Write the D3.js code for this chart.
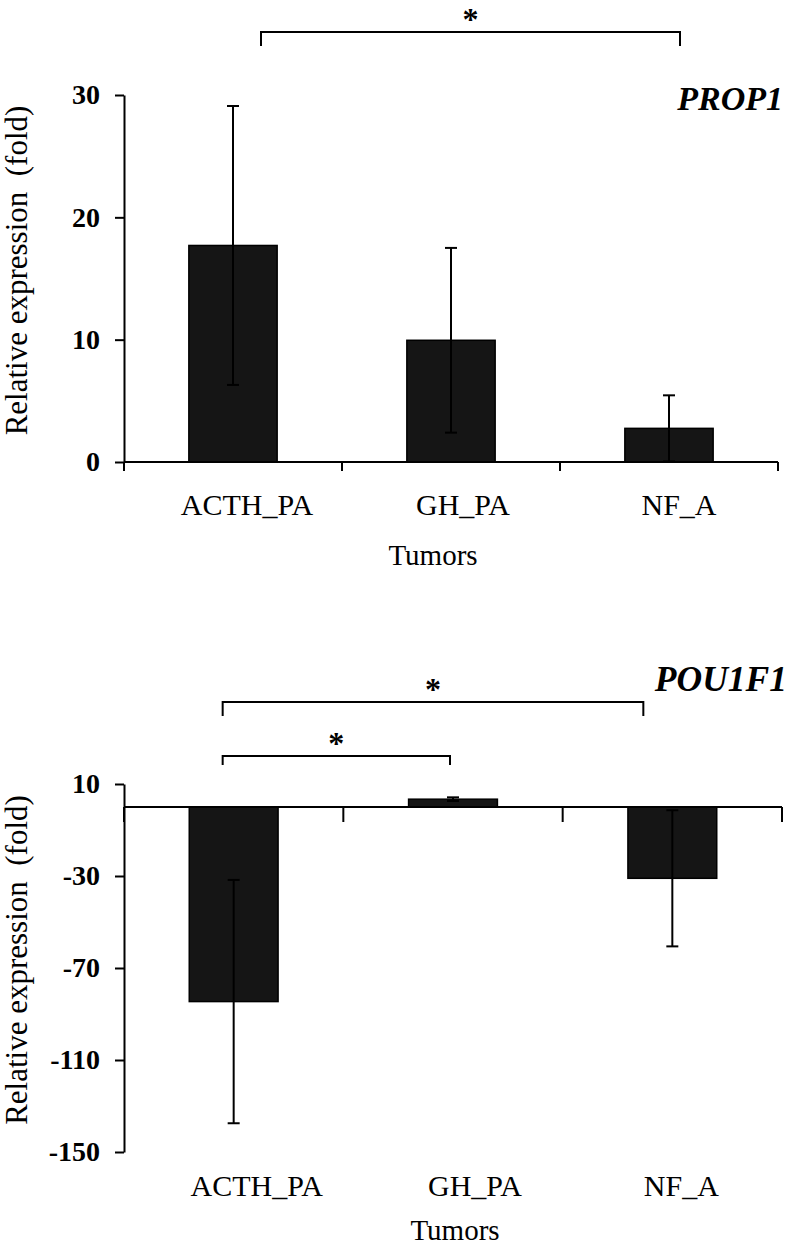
<!DOCTYPE html>
<html>
<head>
<meta charset="utf-8">
<script src="https://cdn.jsdelivr.net/npm/d3@7"></script>
<style>
  html, body { margin: 0; padding: 0; background: #fff; }
  svg { display: block; }
  text { font-family: "Liberation Serif", "Times New Roman", serif; fill: #000; }
</style>
</head>
<body>
<svg id="chart" width="796" height="1248"></svg>
<script>
// ---- data ----
const categories = ["ACTH_PA", "GH_PA", "NF_A"];

const prop1Mean = [17.7, 9.95, 2.75];
const prop1SD   = [11.4, 7.55, 2.7];
const prop1Ticks = [0, 10, 20, 30];

const pou1f1Mean = [-84.6, 3.4, -31.0];
const pou1f1SD   = [52.9, 0.8, 29.6];
const pou1f1Ticks = [-150, -110, -70, -30, 10];

const prop1Sig  = [["ACTH_PA", "NF_A"]];
const pou1f1Sig = [["ACTH_PA", "NF_A"], ["ACTH_PA", "GH_PA"]];

const yTitle = "Relative expression\u00a0\u00a0(fold)";
const xTitle = "Tumors";

const svg = d3.select("#chart");

function drawPanel(cfg) {
  const g = svg.append("g");
  const x = d3.scaleBand().domain(categories).range([cfg.x0, cfg.x1]).padding(0);
  const y = d3.scaleLinear().domain(cfg.domain).range([cfg.yBottom, cfg.yTop]);
  const bw = x.bandwidth() * 0.405;

  // bars
  g.selectAll("rect.bar").data(categories).join("rect")
    .attr("class", "bar")
    .attr("x", d => x(d) + x.bandwidth() / 2 - bw / 2)
    .attr("width", bw)
    .attr("y", (d, i) => Math.min(y(0), y(cfg.mean[i])))
    .attr("height", (d, i) => Math.abs(y(0) - y(cfg.mean[i])))
    .attr("fill", "#151515")
    .attr("stroke", "#000")
    .attr("stroke-width", 1.5);

  // error bars
  const cap = 6;
  categories.forEach((c, i) => {
    const cx = x(c) + x.bandwidth() / 2;
    const lo = cfg.mean[i] - cfg.sd[i], hi = cfg.mean[i] + cfg.sd[i];
    g.append("line").attr("x1", cx).attr("x2", cx).attr("y1", y(lo)).attr("y2", y(hi))
      .attr("stroke", "#000").attr("stroke-width", 2);
    [lo, hi].forEach(v => {
      g.append("line").attr("x1", cx - cap).attr("x2", cx + cap).attr("y1", y(v)).attr("y2", y(v))
        .attr("stroke", "#000").attr("stroke-width", 2);
    });
  });

  // y axis
  const yAxis = d3.axisLeft(y).tickValues(cfg.ticks).tickSize(9).tickSizeOuter(0).tickPadding(15)
    .tickFormat(d => String(d));
  const ya = g.append("g").attr("transform", `translate(${cfg.x0},0)`).call(yAxis);
  ya.select(".domain").attr("stroke", "#000").attr("stroke-width", 2);
  ya.selectAll(".tick line").attr("stroke", "#000").attr("stroke-width", 2);
  ya.selectAll(".tick text").attr("font-weight", "bold").attr("font-size", 28).attr("fill", "#000");

  // x axis line at zero with boundary ticks
  const y0 = y(0);
  g.append("line").attr("x1", cfg.x0).attr("x2", cfg.x1).attr("y1", y0).attr("y2", y0)
    .attr("stroke", "#000").attr("stroke-width", 2);
  const bounds = categories.map(c => x(c)).concat([cfg.x1]);
  g.selectAll("line.xt").data(bounds).join("line").attr("class", "xt")
    .attr("x1", d => d).attr("x2", d => d).attr("y1", y0).attr("y2", y0 + cfg.xTick)
    .attr("stroke", "#000").attr("stroke-width", 2);

  // category labels
  g.selectAll("text.cat").data(categories).join("text").attr("class", "cat")
    .attr("x", (d, i) => x(d) + x.bandwidth() / 2 + cfg.labelShift[i])
    .attr("y", cfg.catBaseline)
    .attr("text-anchor", "middle").attr("font-size", 30)
    .text(d => d);

  // x title
  g.append("text").attr("x", cfg.xTitleX).attr("y", cfg.xTitleY)
    .attr("text-anchor", "middle").attr("font-size", 29).text(xTitle);

  // y title
  g.append("text")
    .attr("transform", `translate(27,${(cfg.yTop + cfg.yBottom) / 2 - 8}) rotate(-90)`)
    .attr("text-anchor", "middle").attr("font-size", 31).text(yTitle);

  // gene title
  g.append("text").attr("x", cfg.titleX).attr("y", cfg.titleY)
    .attr("text-anchor", "end").attr("font-size", cfg.titleSize)
    .attr("font-weight", "bold").attr("font-style", "italic").text(cfg.title);

  // significance brackets
  cfg.sig.forEach((pair, k) => {
    const b = cfg.brackets[k];
    const xa = x(pair[0]) + x.bandwidth() / 2 + b.da;
    const xb = x(pair[1]) + x.bandwidth() / 2 + b.db;
    g.append("path")
      .attr("d", `M${xa},${b.y + b.h} L${xa},${b.y} L${xb},${b.y} L${xb},${b.y + b.h}`)
      .attr("fill", "none").attr("stroke", "#000").attr("stroke-width", 2);
    g.append("text").attr("x", (xa + xb) / 2).attr("y", b.y - 2)
      .attr("text-anchor", "middle").attr("font-size", 32).attr("font-weight", "bold").text("*");
  });
}

drawPanel({
  domain: [0, 30], ticks: prop1Ticks, mean: prop1Mean, sd: prop1SD,
  x0: 124, x1: 778, yBottom: 462, yTop: 95, xTick: 9,
  labelShift: [14, 12, 10], catBaseline: 515,
  xTitleX: 433, xTitleY: 565,
  title: "PROP1", titleX: 783, titleY: 110, titleSize: 34,
  sig: prop1Sig,
  brackets: [{ y: 32, h: 14, da: 28, db: 11 }]
});

drawPanel({
  domain: [-150, 10], ticks: pou1f1Ticks, mean: pou1f1Mean, sd: pou1f1SD,
  x0: 124, x1: 782, yBottom: 1152, yTop: 784, xTick: 15,
  labelShift: [23, 22, 9], catBaseline: 1196,
  xTitleX: 455, xTitleY: 1240,
  title: "POU1F1", titleX: 787, titleY: 691, titleSize: 35.5,
  sig: pou1f1Sig,
  brackets: [{ y: 702, h: 14, da: -11, db: -29 }, { y: 756, h: 9, da: -11, db: -3 }]
});
</script>
</body>
</html>
